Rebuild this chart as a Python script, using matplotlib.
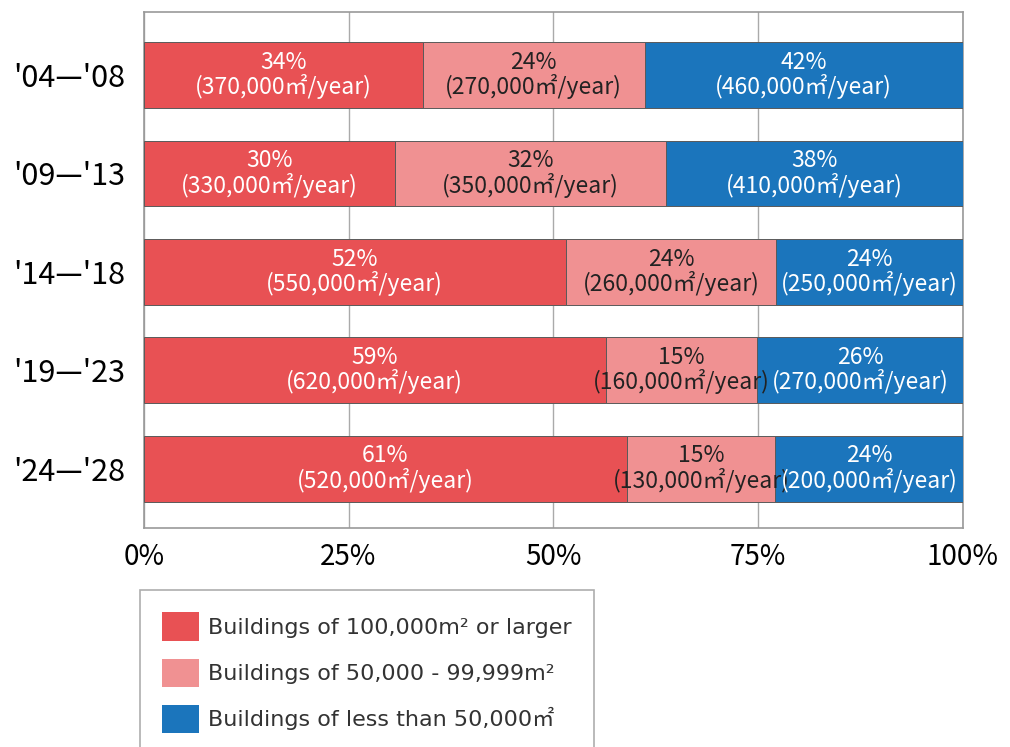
import matplotlib.pyplot as plt
import numpy as np

plt.rcParams['font.family'] = ['Noto Sans CJK JP', 'DejaVu Sans']

# periods (top to bottom)
periods = ["'04\u2014'08", "'09\u2014'13", "'14\u2014'18", "'19\u2014'23", "'24\u2014'28"]

# segment widths (% of bar)
large = [34.05, 30.64, 51.5, 56.4, 59.0]
medium = [27.1, 33.07, 25.7, 18.46, 18.05]
small = [38.85, 36.29, 22.8, 25.14, 22.95]

# printed labels
large_pct = [34, 30, 52, 59, 61]
medium_pct = [24, 32, 24, 15, 15]
small_pct = [42, 38, 24, 26, 24]
large_area = [370000, 330000, 550000, 620000, 520000]
medium_area = [270000, 350000, 260000, 160000, 130000]
small_area = [460000, 410000, 250000, 270000, 200000]

series_names = ['Buildings of 100,000m\u00b2 or larger',
                'Buildings of 50,000 - 99,999m\u00b2',
                'Buildings of less than 50,000\u33a1']
colors = ['#E85154', '#F09192', '#1B75BC']
text_colors = ['white', '#222222', 'white']

fig = plt.figure(figsize=(10.1, 7.47), dpi=100)
ax = fig.add_axes([0.1423, 0.2932, 0.8111, 0.6903])

y = np.arange(len(periods))
widths = [large, medium, small]
pcts = [large_pct, medium_pct, small_pct]
areas = [large_area, medium_area, small_area]

left = np.zeros(len(periods))
handles = []
for k in range(3):
    w = np.array(widths[k])
    b = ax.barh(y, w, left=left, height=0.668, color=colors[k],
                edgecolor='#5a5a5a', linewidth=0.7, label=series_names[k], zorder=3)
    handles.append(b)
    for i in range(len(periods)):
        cx = left[i] + w[i] / 2
        txt = '%d%%\n(%s\u33a1/year)' % (pcts[k][i], format(areas[k][i], ','))
        ax.text(cx, y[i], txt, ha='center', va='center', color=text_colors[k],
                fontsize=16.5, linespacing=1.02, zorder=4)
    left = left + w

ax.set_xlim(0, 100)
ax.set_ylim(4.603, -0.637)
ax.set_xticks([0, 25, 50, 75, 100])
ax.set_xticklabels(['0%', '25%', '50%', '75%', '100%'], fontsize=20)
ax.set_yticks(y)
ax.set_yticklabels(periods, fontsize=22)
ax.tick_params(axis='y', length=0, pad=13)
ax.tick_params(axis='x', length=0, pad=10)
ax.xaxis.grid(True, color='#aaaaaa', linewidth=1, zorder=0)
for s in ax.spines.values():
    s.set_color('#999999')
    s.set_linewidth(1.2)

leg = fig.legend(handles=handles, loc='upper left',
                 bbox_to_anchor=(140 / 1010, 1 - 590 / 747), borderaxespad=0,
                 prop={'family': ['DejaVu Sans', 'Noto Sans CJK JP'], 'size': 16},
                 frameon=True, fancybox=False, labelcolor='#333333',
                 edgecolor='#999999', handlelength=1.67, handleheight=1.6,
                 labelspacing=0.8, borderpad=1.0, handletextpad=0.4)
leg.get_frame().set_linewidth(1.2)
for h in leg.legend_handles:
    h.set_edgecolor('none')

fig.savefig('out.png', dpi=100)
